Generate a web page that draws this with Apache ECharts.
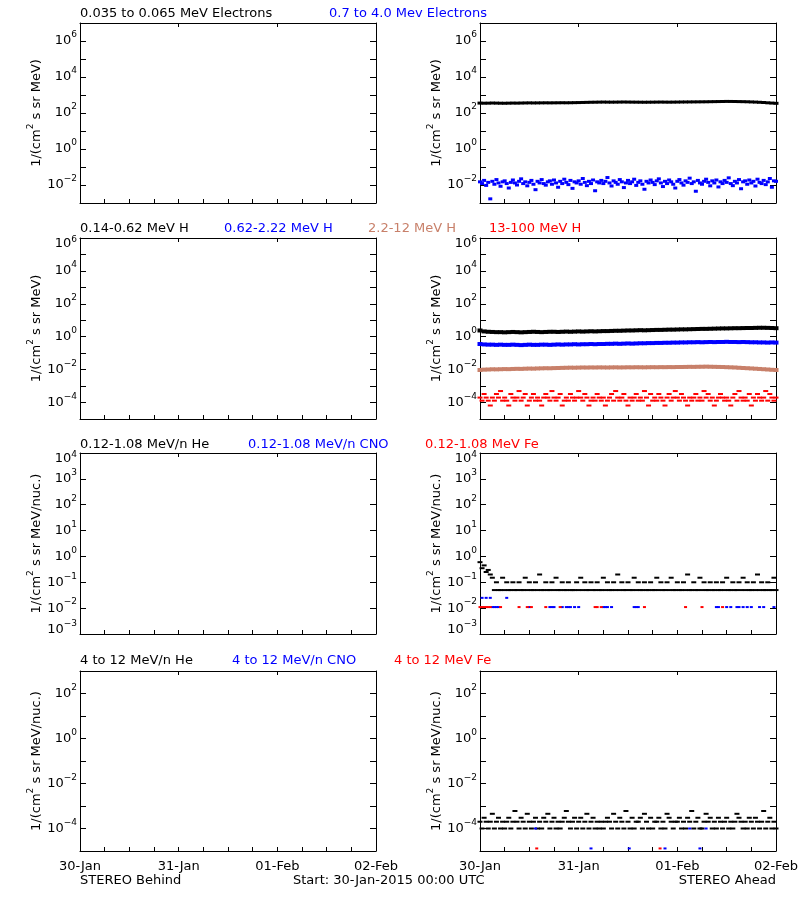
<!DOCTYPE html>
<html>
<head>
<meta charset="utf-8">
<script src="https://cdn.jsdelivr.net/npm/echarts@6/dist/echarts.min.js"></script>
<style>html,body{margin:0;padding:0;background:#fff}#chart{width:800px;height:900px}</style>
</head>
<body>
<div id="chart"></div>
<script>
// ---------------- data ----------------
const xTickLabels = ['30-Jan', '31-Jan', '01-Feb', '02-Feb'];
// y ranges as decade exponents (tick labels are 10^n)
const yExpMin = [-3, -5, -3, -5];
const yExpMax = [7, 6, 4, 3];
const yNames = ['1/(cm{s|2} s sr MeV)', '1/(cm{s|2} s sr MeV)', '1/(cm{s|2} s sr MeV/nuc.)', '1/(cm{s|2} s sr MeV/nuc.)'];
const rowTitles = [
  ['0.035 to 0.065 MeV Electrons', '0.7 to 4.0 Mev Electrons'],
  ['0.14-0.62 MeV H', '0.62-2.22 MeV H', '2.2-12 MeV H', '13-100 MeV H'],
  ['0.12-1.08 MeV/n He', '0.12-1.08 MeV/n CNO', '0.12-1.08 MeV Fe'],
  ['4 to 12 MeV/n He', '4 to 12 MeV/n CNO', '4 to 12 MeV Fe']
];
const footerLeft = 'STEREO Behind';
const footerMid = 'Start: 30-Jan-2015 00:00 UTC';
const footerRight = 'STEREO Ahead';

// STEREO Ahead, hourly values (hours 0..72)
const eLowAhead = [355,350,352,358,354,350,348,352,356,354,358,362,365,362,364,366,368,366,368,370,372,370,372,376,380,385,390,395,398,402,405,402,400,402,405,408,405,402,400,398,396,398,400,403,405,402,400,402,405,408,410,412,414,416,418,420,424,428,432,436,440,438,434,430,426,420,412,404,394,382,368,356,345];
// 30-min values (hours 0..72 step 0.5)
const eHighAhead = [0.015,0.012,0.018,0.0095,0.014,0.0017,0.016,0.011,0.02,0.013,0.0085,0.015,
0.017,0.012,0.0068,0.014,0.019,0.013,0.01,0.016,0.022,0.012,0.015,0.009,
0.014,0.018,0.011,0.0055,0.016,0.013,0.02,0.012,0.0098,0.015,0.017,0.011,
0.019,0.013,0.0075,0.016,0.012,0.021,0.014,0.0105,0.018,0.0065,0.015,0.013,
0.017,0.011,0.023,0.014,0.0092,0.016,0.012,0.019,0.0048,0.015,0.013,0.018,
0.012,0.016,0.026,0.013,0.0088,0.017,0.014,0.011,0.02,0.015,0.0072,0.013,
0.018,0.012,0.015,0.021,0.0095,0.014,0.017,0.011,0.0058,0.016,0.013,0.019,
0.014,0.0105,0.017,0.022,0.013,0.0082,0.016,0.012,0.019,0.015,0.011,0.0068,
0.016,0.02,0.013,0.0098,0.017,0.014,0.024,0.012,0.015,0.0045,0.018,0.013,
0.011,0.016,0.021,0.014,0.009,0.017,0.013,0.019,0.0078,0.015,0.012,0.018,
0.014,0.025,0.012,0.0092,0.016,0.013,0.02,0.0062,0.015,0.017,0.011,0.019,
0.013,0.016,0.0088,0.021,0.014,0.012,0.018,0.0105,0.015,0.023,0.0075,0.017,
0.016];

// hourly
const hLowAhead = [2.4,2.1,2.0,1.95,1.9,1.9,1.85,1.9,1.95,1.9,1.85,1.9,1.95,2.0,1.95,1.9,1.95,2.0,2.0,1.95,2.0,2.05,2.0,2.05,2.1,2.05,2.1,2.15,2.1,2.15,2.2,2.2,2.25,2.3,2.3,2.35,2.4,2.4,2.45,2.5,2.45,2.5,2.55,2.6,2.6,2.65,2.7,2.7,2.75,2.8,2.8,2.85,2.9,2.95,3.0,3.0,3.05,3.1,3.15,3.2,3.2,3.25,3.3,3.3,3.35,3.4,3.4,3.45,3.5,3.5,3.45,3.4,3.3];
const hMidAhead = [0.36,0.34,0.33,0.33,0.32,0.33,0.32,0.32,0.33,0.32,0.31,0.32,0.33,0.32,0.32,0.33,0.33,0.32,0.33,0.34,0.33,0.34,0.34,0.35,0.34,0.35,0.35,0.36,0.35,0.36,0.36,0.37,0.37,0.38,0.37,0.38,0.39,0.38,0.39,0.4,0.4,0.41,0.41,0.42,0.42,0.43,0.43,0.44,0.44,0.45,0.45,0.46,0.46,0.47,0.46,0.47,0.48,0.47,0.48,0.48,0.49,0.48,0.48,0.47,0.48,0.47,0.46,0.46,0.45,0.45,0.44,0.45,0.44];
const hHighAhead = [0.0095,0.010,0.0102,0.0105,0.0104,0.0106,0.0108,0.0107,0.011,0.0112,0.0111,0.0114,0.0116,0.0115,0.0118,0.012,0.0122,0.0121,0.0124,0.0126,0.0128,0.013,0.0132,0.0131,0.0133,0.0135,0.0134,0.0136,0.0135,0.0137,0.0136,0.0135,0.0137,0.0138,0.0136,0.0137,0.0139,0.0138,0.014,0.0139,0.0138,0.014,0.0141,0.014,0.0142,0.0141,0.0143,0.0142,0.0144,0.0145,0.0146,0.0148,0.0147,0.0149,0.015,0.0152,0.015,0.0148,0.0146,0.0144,0.0141,0.0138,0.0135,0.013,0.0126,0.0122,0.0118,0.0114,0.011,0.0106,0.0102,0.0098,0.0095];
// 30-min
const hTopAhead = [2e-4,1.3e-4,3.3e-4,2e-4,1.3e-4,6.6e-5,2e-4,1.3e-4,3.3e-4,2e-4,5e-4,1.3e-4,
2e-4,1.3e-4,6.6e-5,3.3e-4,2e-4,1.3e-4,2e-4,5e-4,1.3e-4,2e-4,3.3e-4,6.6e-5,
1.3e-4,2e-4,3.3e-4,1.3e-4,2e-4,1.3e-4,6.6e-5,2e-4,3.3e-4,2e-4,1.3e-4,5e-4,
2e-4,1.3e-4,2e-4,3.3e-4,6.6e-5,1.3e-4,2e-4,1.3e-4,3.3e-4,2e-4,1.3e-4,2e-4,
5e-4,2e-4,1.3e-4,3.3e-4,2e-4,6.6e-5,1.3e-4,2e-4,1.3e-4,3.3e-4,2e-4,1.3e-4,
2e-4,6.6e-5,1.3e-4,2e-4,3.3e-4,1.3e-4,5e-4,2e-4,1.3e-4,2e-4,3.3e-4,1.3e-4,
6.6e-5,2e-4,1.3e-4,2e-4,3.3e-4,1.3e-4,2e-4,1.3e-4,5e-4,2e-4,6.6e-5,3.3e-4,
1.3e-4,2e-4,1.3e-4,3.3e-4,2e-4,1.3e-4,6.6e-5,2e-4,3.3e-4,1.3e-4,2e-4,5e-4,
2e-4,1.3e-4,3.3e-4,2e-4,1.3e-4,6.6e-5,2e-4,1.3e-4,2e-4,3.3e-4,1.3e-4,2e-4,
1.3e-4,5e-4,2e-4,3.3e-4,1.3e-4,2e-4,6.6e-5,1.3e-4,2e-4,3.3e-4,2e-4,1.3e-4,
2e-4,1.3e-4,6.6e-5,2e-4,3.3e-4,1.3e-4,5e-4,2e-4,1.3e-4,2e-4,1.3e-4,3.3e-4,
6.6e-5,2e-4,1.3e-4,3.3e-4,2e-4,1.3e-4,2e-4,5e-4,1.3e-4,3.3e-4,2e-4,1.3e-4,
2e-4];

// 30-min
const heLowAhead = [0.6,0.35,0.45,0.25,0.3,0.2,0.15,
0.05,0.1,0.05,0.05,0.15,0.05,0.1,0.05,0.05,0.1,0.05,0.05,
0.1,0.05,0.05,0.15,0.05,0.1,0.05,0.05,0.1,0.05,0.2,0.05,
0.05,0.1,0.05,0.05,0.1,0.05,0.15,0.05,0.05,0.1,0.05,0.05,
0.1,0.05,0.05,0.05,0.1,0.05,0.15,0.05,0.1,0.05,0.05,0.1,
0.05,0.05,0.1,0.05,0.05,0.15,0.05,0.1,0.05,0.05,0.1,0.05,
0.2,0.05,0.1,0.05,0.05,0.1,0.05,0.05,0.15,0.05,0.1,0.05,
0.05,0.1,0.05,0.05,0.1,0.05,0.05,0.15,0.05,0.1,0.05,0.05,
0.1,0.05,0.15,0.05,0.05,0.1,0.05,0.05,0.1,0.05,0.2,0.05,
0.05,0.1,0.05,0.05,0.15,0.05,0.1,0.05,0.05,0.1,0.05,0.05,
0.1,0.05,0.05,0.1,0.05,0.15,0.05,0.05,0.1,0.05,0.05,0.1,
0.05,0.15,0.05,0.1,0.05,0.05,0.1,0.05,0.2,0.05,0.1,0.05,
0.05,0.1,0.05,0.05,0.15,0.05];
// [hour, value] pairs (sparse)
const cnoLowAhead = [[0.5,0.025],[1.5,0.025],[2.5,0.025],[6.5,0.025],[3,0.011],[3.5,0.011],[4,0.011],[4.5,0.011],[12,0.011],[17,0.011],[17.5,0.011],[18,0.011],[20,0.011],[21,0.011],[21.5,0.011],[22,0.011],[23,0.011],[24,0.011],[30,0.011],[30.5,0.011],[31,0.011],[32,0.011],[37.5,0.011],[38,0.011],[38.5,0.011],[57.5,0.011],[58,0.011],[60,0.011],[61,0.011],[62.5,0.011],[63,0.011],[64,0.011],[65,0.011],[66,0.011],[68,0.011],[69,0.011],[71.5,0.011]];
const feLowAhead = [[0,0.011],[0.5,0.011],[1,0.011],[1.5,0.011],[2,0.011],[2.5,0.011],[5,0.011],[9.5,0.011],[11.5,0.011],[12.5,0.011],[16,0.011],[19.5,0.011],[28,0.011],[28.5,0.011],[29.5,0.011],[40,0.011],[50,0.011],[54,0.011],[59,0.011]];

// 30-min
const heHighAhead = [2e-4,1e-4,3e-4,2e-4,1e-4,2e-4,4.5e-4,1e-4,2e-4,3e-4,1e-4,2e-4,
1e-4,2e-4,3e-4,1e-4,2e-4,6e-4,2e-4,1e-4,3e-4,2e-4,1e-4,4.5e-4,
2e-4,1e-4,2e-4,3e-4,1e-4,2e-4,1e-4,3e-4,2e-4,4.5e-4,1e-4,2e-4,
3e-4,1e-4,2e-4,1e-4,2e-4,3e-4,6e-4,2e-4,1e-4,2e-4,3e-4,1e-4,
2e-4,3e-4,1e-4,2e-4,4.5e-4,1e-4,2e-4,3e-4,1e-4,2e-4,1e-4,2e-4,
1e-4,2e-4,3e-4,2e-4,1e-4,4.5e-4,2e-4,1e-4,3e-4,2e-4,1e-4,6e-4,
2e-4,1e-4,3e-4,1e-4,2e-4,2e-4,3e-4,1e-4,4.5e-4,2e-4,1e-4,3e-4,
1e-4,2e-4,2e-4,3e-4,1e-4,2e-4,1e-4,4.5e-4,3e-4,2e-4,1e-4,2e-4,
2e-4,3e-4,1e-4,2e-4,1e-4,3e-4,2e-4,6e-4,1e-4,2e-4,3e-4,1e-4,
1e-4,2e-4,4.5e-4,2e-4,3e-4,1e-4,2e-4,1e-4,3e-4,2e-4,1e-4,2e-4,
3e-4,1e-4,2e-4,1e-4,2e-4,4.5e-4,3e-4,2e-4,1e-4,2e-4,1e-4,3e-4,
2e-4,1e-4,3e-4,2e-4,1e-4,2e-4,6e-4,1e-4,2e-4,3e-4,1e-4,2e-4,
1e-4];
const cnoHighAhead = [[13.5,1e-4],[51,1e-4],[55,1e-4],[27,1.3e-5],[36.3,1.3e-5],[45,1.3e-5],[53.5,1.3e-5]];
const feHighAhead = [[13.8,1.3e-5],[43.8,1.3e-5]];

// ---------------- layout / style ----------------
const FONT = 'DejaVu Sans';
const C = {black: '#000000', blue: '#0000ff', brown: '#c8806a', red: '#ff0000'};
const rowColors = [[C.black, C.blue], [C.black, C.blue, C.brown, C.red], [C.black, C.blue, C.red], [C.black, C.blue, C.red]];
const titleX = [[80, 329], [80, 224, 368, 489], [80, 248, 425], [80, 232, 394]];
const titleY = [14, 229, 445, 661];
const rowTop = [23, 238, 453, 671];
const rowH = [180, 181, 181, 180];
const colLeft = [80, 480];
const plotW = 296;
const labelStep = [2, 2, 1, 2];

const grids = [], xAxes = [], yAxes = [], series = [];
const lineStyle = {color: '#000', width: 1};
const supStyle = {fontSize: 9, fontFamily: FONT, color: '#000', padding: [0, 0, 12, 0]};
const richLbl = {
  b: {fontSize: 13, fontFamily: FONT, color: '#000'},
  s: supStyle,
  // label at the top end of an axis: nudged down inside the frame
  bt: {fontSize: 13, fontFamily: FONT, color: '#000', padding: [12, 0, 0, 0]},
  st: {fontSize: 9, fontFamily: FONT, color: '#000', padding: [4, 0, 0, 0]},
  // label at the bottom end of an axis: nudged up inside the frame
  bb: {fontSize: 13, fontFamily: FONT, color: '#000', padding: [0, 0, 9, 0]},
  sb: {fontSize: 9, fontFamily: FONT, color: '#000', padding: [0, 0, 20, 0]}
};

for (let r = 0; r < 4; r++) {
  for (let c = 0; c < 2; c++) {
    const g = r * 2 + c;
    grids.push({left: colLeft[c], top: rowTop[r], width: plotW, height: rowH[r], containLabel: false, outerBoundsMode: 'none'});
    xAxes.push({
      type: 'value', gridIndex: g, position: 'bottom', min: 0, max: 72, interval: 6,
      axisLine: {show: true, onZero: false, lineStyle},
      axisTick: {show: true, inside: true, length: 4, lineStyle},
      splitLine: {show: false},
      axisLabel: {show: r === 3, margin: 9, color: '#000', fontSize: 13, fontFamily: FONT,
        formatter: v => (v % 24 === 0 ? xTickLabels[v / 24] : '')}
    });
    xAxes.push({
      type: 'value', gridIndex: g, position: 'top', min: 0, max: 72, interval: 24,
      axisLine: {show: true, onZero: false, lineStyle},
      axisTick: {show: true, inside: true, length: 4, lineStyle},
      splitLine: {show: false}, axisLabel: {show: false}
    });
    const step = labelStep[r];
    const eMin = yExpMin[r], eMax = yExpMax[r];
    // 3g: log axis carrying the data (hidden)
    yAxes.push({
      type: 'log', logBase: 10, gridIndex: g, position: 'left', show: false,
      min: Math.pow(10, eMin), max: Math.pow(10, eMax),
      splitLine: {show: false}
    });
    // 3g+1: decade ticks + labels on the left
    yAxes.push({
      type: 'value', gridIndex: g, position: 'left',
      min: eMin, max: eMax, interval: 1,
      axisLine: {show: true, onZero: false, lineStyle},
      axisTick: {show: true, inside: true, length: 6, lineStyle},
      minorTick: {show: false}, splitLine: {show: false},
      axisLabel: {
        show: true, margin: 3, color: '#000', fontSize: 13, fontFamily: FONT,
        formatter: e => {
          if (e % step !== 0) return '';
          const ex = e < 0 ? '\u2212' + (-e) : String(e);
          if (e === eMax) return '{bt|10}{st|' + ex + '}';
          if (e === eMin) return '{bb|10}{sb|' + ex + '}';
          return '{b|10}{s|' + ex + '}';
        },
        rich: richLbl
      },
      name: yNames[r], nameLocation: 'middle', nameGap: 32, nameRotate: 90,
      nameTextStyle: {color: '#000', fontSize: 13, fontFamily: FONT, rich: {s: supStyle}}
    });
    // 3g+2: decade ticks on the right
    yAxes.push({
      type: 'value', gridIndex: g, position: 'right',
      min: eMin, max: eMax, interval: 1,
      axisLine: {show: true, onZero: false, lineStyle},
      axisTick: {show: true, inside: true, length: 6, lineStyle},
      minorTick: {show: false}, splitLine: {show: false}, axisLabel: {show: false}
    });
  }
}

function seq(vals, stepH) { return vals.map((v, i) => [i * stepH, v]); }
function addScatter(g, name, data, color, size) {
  series.push({
    type: 'scatter', name, xAxisIndex: 2 * g, yAxisIndex: 3 * g, data,
    symbol: 'rect', symbolSize: size, itemStyle: {color, opacity: 1},
    silent: true, animation: false, clip: true
  });
}
// right column (STEREO Ahead) grid indices: 1,3,5,7
addScatter(1, rowTitles[0][0], seq(eLowAhead, 1), C.black, [5, 3]);
addScatter(1, rowTitles[0][1], seq(eHighAhead, 0.5), C.blue, [4, 3]);
addScatter(3, rowTitles[1][0], seq(hLowAhead, 1), C.black, [5, 4]);
addScatter(3, rowTitles[1][1], seq(hMidAhead, 1), C.blue, [5, 4]);
addScatter(3, rowTitles[1][2], seq(hHighAhead, 1), C.brown, [5, 4]);
addScatter(3, rowTitles[1][3], seq(hTopAhead, 0.5), C.red, [5, 2]);
addScatter(5, rowTitles[2][0], seq(heLowAhead, 0.5), C.black, [5, 2]);
addScatter(5, rowTitles[2][1], cnoLowAhead, C.blue, [3, 2]);
addScatter(5, rowTitles[2][2], feLowAhead, C.red, [3, 2]);
addScatter(7, rowTitles[3][0], seq(heHighAhead, 0.5), C.black, [5, 2]);
addScatter(7, rowTitles[3][1], cnoHighAhead, C.blue, [3, 2]);
addScatter(7, rowTitles[3][2], feHighAhead, C.red, [3, 2]);

const graphics = [];
function txt(text, x, y, color, align) {
  graphics.push({type: 'text', x, y, silent: true,
    style: {text, fill: color, font: '13px "' + FONT + '"', align: align || 'left', verticalAlign: 'middle'}});
}
for (let r = 0; r < 4; r++) {
  rowTitles[r].forEach((t, i) => txt(t, titleX[r][i], titleY[r], rowColors[r][i]));
}
txt(footerLeft, 80, 881, '#000');
txt(footerMid, 293, 881, '#000');
txt(footerRight, 776, 881, '#000', 'right');

const chart = echarts.init(document.getElementById('chart'), null, {renderer: 'canvas'});
chart.setOption({
  animation: false,
  backgroundColor: '#ffffff',
  textStyle: {fontFamily: FONT},
  grid: grids, xAxis: xAxes, yAxis: yAxes, series, graphic: graphics
});
</script>
</body>
</html>
